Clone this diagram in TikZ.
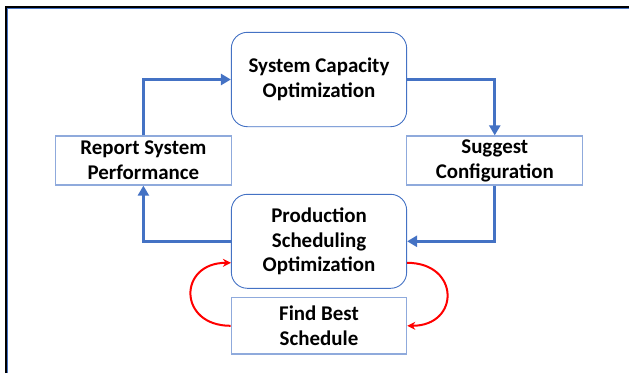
\documentclass[tikz,border=0pt]{standalone}
\usepackage{fontspec}
\setmainfont{Carlito}
\usetikzlibrary{arrows.meta,calc}
\definecolor{flowblue}{HTML}{4472C4}
\definecolor{boxblue}{HTML}{8FAADC}
\definecolor{loopred}{HTML}{FF0000}
\tikzset{
  label font/.style={font=\fontsize{21}{25}\selectfont\bfseries, align=center, text=black},
  roundbox/.style={label font, draw=flowblue, line width=0.9bp, rounded corners=16bp,
    minimum width=175.3bp, minimum height=94.4bp, inner sep=0pt},
  plainbox/.style={label font, draw=boxblue, line width=1.3bp,
    minimum width=176bp, minimum height=49bp, inner sep=0pt},
  flow/.style={draw=flowblue, line width=3.2bp,
    -{Triangle[length=10bp,width=11bp]}, fill=none},
  loop/.style={draw=loopred, line width=2bp,
    -{Stealth[length=8bp,width=8bp]}},
}
\begin{document}
\begin{tikzpicture}[x=1bp,y=-1bp]
  \useasboundingbox (0,0) rectangle (629,373);
  % outer frame, cut at the right and bottom
  \draw[black, line width=2bp] (6,373) -- (6,7) -- (629,7);
  \draw[flowblue, line width=0.8bp] (7.6,373) -- (7.6,8.6) -- (629,8.6);

  % boxes
  \node[roundbox] (cap)  at (319,79.5)  {System Capacity\\Optimization};
  \node[plainbox] (rep)  at (143.4,160.5) {Report System\\Performance};
  \node[plainbox] (sug)  at (494.75,160.5) {Suggest\\Configuration};
  \node[roundbox, minimum height=94bp] (prod) at (319,241.3) {Production\\Scheduling\\Optimization};
  \node[plainbox, minimum width=175.3bp, minimum height=56.3bp] (find) at (319,325.8) {Find Best\\Schedule};

  % main cycle
  \draw[flow] (rep.north) |- (cap.west);
  \draw[flow] (cap.east) -| (sug.north);
  \draw[flow] (sug.south) |- (prod.east);
  \draw[flow] (prod.west) -| (rep.south);

  % inner loop between scheduling and search
  \draw[loop] (find.west) .. controls +(-53,0) and +(-53,0) .. ([yshift=-21.5bp]prod.west);
  \draw[loop] ([yshift=-21.5bp]prod.east) .. controls +(53,0) and +(53,0) .. (find.east);
\end{tikzpicture}
\end{document}
